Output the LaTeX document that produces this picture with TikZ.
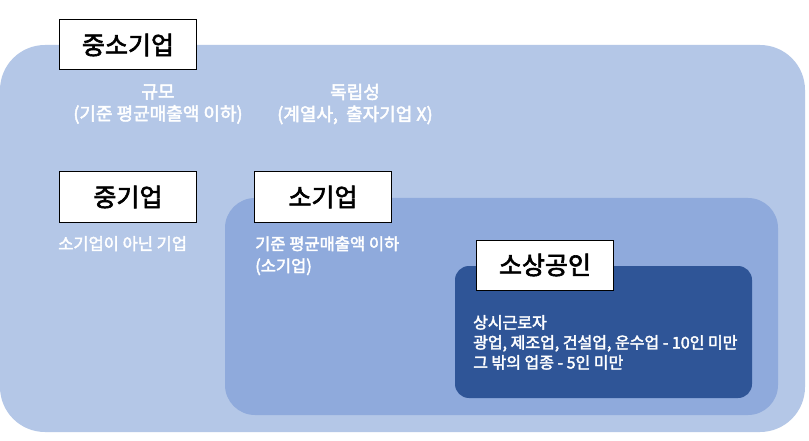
\documentclass[tikz,border=0pt]{standalone}
\usepackage{fontspec}
\setmainfont{Noto Sans CJK KR}[BoldFont={Noto Sans CJK KR},BoldFeatures={FakeBold=2.5}]
\begin{document}
\begin{tikzpicture}[x=1pt,y=-1pt,
  lbl/.style={draw=black,line width=1pt,fill=white,minimum width=137pt,minimum height=50pt,font=\bfseries\fontsize{25}{28}\selectfont},
  txt/.style={text=white,font=\bfseries\fontsize{18}{22}\selectfont,align=center},
  txtl/.style={text=white,font=\bfseries\fontsize{16.5}{22}\selectfont,align=left,anchor=north west,inner sep=0pt},
  txts/.style={text=white,font=\bfseries\fontsize{16}{20}\selectfont,align=left,anchor=north west,inner sep=0pt}]
\useasboundingbox (0,0) rectangle (809,441);
\fill[white] (0,0) rectangle (809,441);
\fill[fill={rgb,255:red,180;green,199;blue,231},rounded corners=45pt] (0,45) rectangle (805,432);
\fill[fill={rgb,255:red,143;green,170;blue,220},rounded corners=30pt] (225,198) rectangle (778,415);
\fill[fill={rgb,255:red,47;green,85;blue,151},rounded corners=14pt] (455,266) rectangle (752,398);
\node[lbl] (a) at (128,45) {중소기업};
\node[lbl] (b) at (128,197) {중기업};
\node[lbl] (c) at (323,197) {소기업};
\node[lbl] (d) at (545,265) {소상공인};
\node[txt] (t1) at (158,104) {규모\\(기준 평균매출액 이하)};
\node[txt] (t2) at (355,104) {독립성\\(계열사,\ \ 출자기업 X)};
\node[txtl] (t3) at (58,236) {소기업이 아닌 기업};
\node[txtl] (t4) at (255,236) {기준 평균매출액 이하\\(소기업)};
\node[txts] (t5) at (473,315) {상시근로자\\광업, 제조업, 건설업, 운수업 - 10인 미만\\그 밖의 업종 - 5인 미만};
\end{tikzpicture}
\end{document}
